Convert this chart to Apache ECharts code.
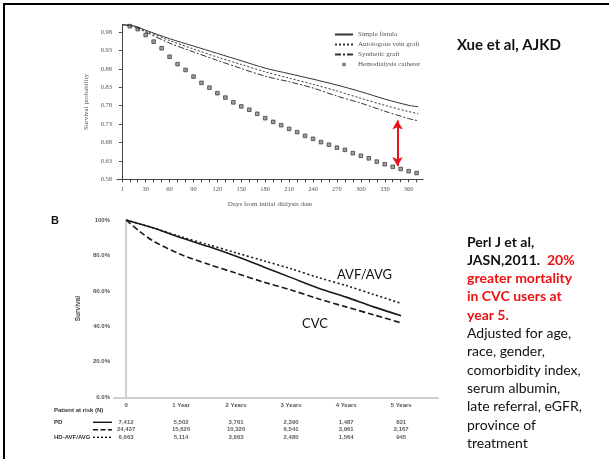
<!DOCTYPE html>
<html>
<head>
<meta charset="utf-8">
<script src="https://cdn.jsdelivr.net/npm/echarts@6/dist/echarts.min.js"></script>
<style>
html, body { margin: 0; padding: 0; background: #fff; }
#main { width: 609px; height: 459px; }
</style>
</head>
<body>
<div id="main"></div>
<script>
// 上图: Xue et al (days 1..372)
var lineDays = [1, 15, 30, 60, 90, 120, 150, 180, 210, 240, 270, 300, 330, 360, 372];
var simpleFistula = [1.0, 0.997, 0.985, 0.962, 0.942, 0.922, 0.902, 0.882, 0.867, 0.852, 0.836, 0.818, 0.798, 0.781, 0.777];
var autoVein = [1.0, 0.996, 0.983, 0.957, 0.934, 0.912, 0.892, 0.872, 0.855, 0.838, 0.820, 0.800, 0.781, 0.764, 0.758];
var syntheticGraft = [1.0, 0.995, 0.980, 0.950, 0.926, 0.903, 0.881, 0.860, 0.845, 0.828, 0.806, 0.787, 0.765, 0.745, 0.739];
var catheterDays = [10, 20, 30, 40, 50, 60, 70, 80, 90, 100, 110, 120, 130, 140, 150, 160, 170, 180, 190, 200,
	210, 220, 230, 240, 250, 260, 270, 280, 290, 300, 310, 320, 330, 340, 350, 360, 370];
var catheter = [0.996, 0.988, 0.972, 0.954, 0.936, 0.913, 0.893, 0.877, 0.859, 0.842, 0.829, 0.814, 0.802, 0.789,
	0.778, 0.769, 0.758, 0.746, 0.736, 0.727, 0.717, 0.708, 0.698, 0.690, 0.681, 0.674, 0.666, 0.660, 0.651,
	0.644, 0.637, 0.628, 0.621, 0.614, 0.608, 0.602, 0.597];
var topXLabels = [1, 30, 60, 90, 120, 150, 180, 210, 240, 270, 300, 330, 360];
var topXTicks = [0, 10, 20, 30, 40, 50, 60, 70, 80, 90, 100, 110, 120, 130, 140, 150, 160, 170, 180, 190, 200,
	210, 220, 230, 240, 250, 260, 270, 280, 290, 300, 310, 320, 330, 340, 350, 360, 370];
var arrowDay = 346, arrowFrom = 0.740, arrowTo = 0.616;

// 下图: Perl J et al (years 0..5)
var years = [0, 0.25, 0.5, 1, 1.5, 2, 2.5, 3, 3.5, 4, 4.5, 5];
var pd = [100, 97.7, 95.5, 90, 85, 79.5, 73.5, 67.5, 61.5, 56.5, 51, 46];
var avf = [100, 97.8, 95.5, 90.5, 86, 81.5, 77, 72.5, 67.5, 63, 58, 53];
var cvc = [100, 93.5, 88, 80.5, 75, 70, 65, 60.5, 55.5, 51, 46.5, 42];
var yearTicks = [0, 1, 2, 3, 4, 5];
var yearLabels = ['0', '1 Year', '2 Years', '3 Years', '4 Years', '5 Years'];
var riskRows = ['PD', 'HD-CVC', 'HD-AVF/AVG'];
var riskPD = ['7,412', '5,502', '3,761', '2,390', '1,487', '831'];
var riskCVC = ['24,437', '15,620', '10,320', '6,541', '3,961', '2,167'];
var riskAVF = ['6,663', '5,114', '3,663', '2,480', '1,564', '945'];

function pairs(xs, ys) {
	var out = [];
	for (var i = 0; i < xs.length; i++) {
		out.push([xs[i], ys[i]]);
	}
	return out;
}
function riskData(row, vals) {
	var out = [];
	for (var i = 0; i < vals.length; i++) {
		out.push({ value: [yearTicks[i], row], label: { formatter: vals[i] } });
	}
	return out;
}

var serif = 'Liberation Serif';
var sans = 'Liberation Sans';
var dark = '#333';
// 图例里的小方块, 用不可见的 M 点把边界撑成 18x7
var smallBox = 'path://M0,0M18,7M7.3,1.8h3.4v3.4h-3.4z';

var myChart = echarts.init(document.getElementById('main'));
var option = {
	animation: false,
	backgroundColor: '#fff',
	grid: [
		{ left: 117, right: 186, top: 24.7, height: 154.6 },
		{ left: 114, right: 171, top: 220, height: 177.3 },
		{ left: 114, right: 171, top: 418.5, height: 22.5 }
	],
	legend: {
		data: [
			{ name: 'Simple fistula', itemStyle: { opacity: 0 } },
			{ name: 'Autologous vein graft', itemStyle: { opacity: 0 } },
			{ name: 'Synthetic graft', itemStyle: { opacity: 0 } },
			{ name: 'Hemodialysis catheter', icon: smallBox, itemStyle: { color: '#555', borderWidth: 0 } }
		],
		orient: 'vertical',
		left: 329,
		top: 26,
		itemWidth: 18,
		itemHeight: 7,
		itemGap: 3,
		textStyle: { fontFamily: serif, fontSize: 7, color: '#555' }
	},
	xAxis: [
		{
			gridIndex: 0, type: 'value', min: -6, max: 378,
			axisLine: { lineStyle: { color: '#444', width: 1 } },
			axisTick: { customValues: topXTicks, length: 3, lineStyle: { color: '#444' } },
			axisLabel: { customValues: topXLabels, fontFamily: serif, fontSize: 6.5, color: '#555', margin: 6 },
			splitLine: { show: false },
			name: 'Days from initial dialysis date', nameLocation: 'middle', nameGap: 21,
			nameTextStyle: { fontFamily: serif, fontSize: 7, color: '#555' }
		},
		{
			gridIndex: 1, type: 'value', min: -0.22, max: 5.67,
			axisLine: { lineStyle: { color: '#d0d0d0', width: 2 } },
			axisTick: { customValues: yearTicks, length: 2, lineStyle: { color: '#ccc' } },
			axisLabel: {
				customValues: yearTicks, fontFamily: sans, fontSize: 6, fontWeight: 'bold', color: '#555', margin: 5,
				formatter: function(v) { return yearLabels[yearTicks.indexOf(v)]; }
			},
			splitLine: { show: false }
		},
		{
			gridIndex: 2, type: 'value', min: -0.22, max: 5.67, show: false
		}
	],
	yAxis: [
		{
			gridIndex: 0, type: 'value', min: 0.58, max: 1.0, interval: 0.05,
			axisLine: { show: true, lineStyle: { color: '#444', width: 1 } },
			axisTick: { show: true, length: 3, lineStyle: { color: '#444' } },
			axisLabel: {
				fontFamily: serif, fontSize: 6.5, color: '#555', margin: 5, showMaxLabel: false,
				formatter: function(v) { return v.toFixed(2); }
			},
			splitLine: { show: false },
			name: 'Survival probability', nameLocation: 'middle', nameGap: 23, nameRotate: 90,
			nameTextStyle: { fontFamily: serif, fontSize: 7, color: '#555' }
		},
		{
			gridIndex: 1, type: 'value', min: 0, max: 100, interval: 20,
			axisLine: { show: true, lineStyle: { color: '#d0d0d0', width: 2 } },
			axisTick: { show: false },
			axisLabel: {
				fontFamily: sans, fontSize: 6, fontWeight: 'bold', color: '#555', margin: 4,
				formatter: function(v) { return v == 100 ? '100%' : v.toFixed(1) + '%'; }
			},
			splitLine: { show: false },
			name: 'Survival', nameLocation: 'middle', nameGap: 24, nameRotate: 90,
			nameTextStyle: { fontFamily: sans, fontSize: 6.5, fontWeight: 'bold', color: '#444' }
		},
		{
			gridIndex: 2, type: 'category', data: riskRows, inverse: true,
			axisLine: { show: false }, axisTick: { show: false },
			axisLabel: { align: 'left', margin: 60, fontFamily: sans, fontSize: 6, fontWeight: 'bold', color: '#333' }
		}
	],
	series: [
		{
			name: 'Simple fistula', type: 'line', xAxisIndex: 0, yAxisIndex: 0,
			data: pairs(lineDays, simpleFistula), symbol: 'none', smooth: 0.3,
			lineStyle: { color: dark, width: 1, type: 'solid' }, itemStyle: { color: dark }
		},
		{
			name: 'Autologous vein graft', type: 'line', xAxisIndex: 0, yAxisIndex: 0,
			data: pairs(lineDays, autoVein), symbol: 'none', smooth: 0.3,
			lineStyle: { color: dark, width: 1, type: [2, 2] }, itemStyle: { color: dark }
		},
		{
			name: 'Synthetic graft', type: 'line', xAxisIndex: 0, yAxisIndex: 0,
			data: pairs(lineDays, syntheticGraft), symbol: 'none', smooth: 0.3,
			lineStyle: { color: dark, width: 1, type: [6, 2, 2, 2] }, itemStyle: { color: dark }
		},
		{
			name: 'Hemodialysis catheter', type: 'scatter', xAxisIndex: 0, yAxisIndex: 0,
			data: pairs(catheterDays, catheter), symbol: 'rect', symbolSize: 3.6,
			itemStyle: { color: '#888', borderColor: '#333', borderWidth: 0.9 },
			markLine: {
				silent: true, symbol: ['arrow', 'arrow'], symbolSize: [8, 9],
				label: { show: false },
				lineStyle: { color: '#e8141b', width: 2, type: 'solid' },
				data: [[{ coord: [arrowDay, arrowFrom] }, { coord: [arrowDay, arrowTo] }]]
			}
		},
		{
			name: 'PD', type: 'line', xAxisIndex: 1, yAxisIndex: 1,
			data: pairs(years, pd), symbol: 'none', smooth: 0.3,
			lineStyle: { color: '#1a1a1a', width: 1.6, type: 'solid' }
		},
		{
			name: 'HD-AVF/AVG', type: 'line', xAxisIndex: 1, yAxisIndex: 1,
			data: pairs(years, avf), symbol: 'none', smooth: 0.3,
			lineStyle: { color: '#1a1a1a', width: 1.6, type: [2, 2.5] }
		},
		{
			name: 'HD-CVC', type: 'line', xAxisIndex: 1, yAxisIndex: 1,
			data: pairs(years, cvc), symbol: 'none', smooth: 0.3,
			lineStyle: { color: '#1a1a1a', width: 1.6, type: [6, 3] }
		},
		{
			name: 'riskPD', type: 'scatter', xAxisIndex: 2, yAxisIndex: 2, symbolSize: 0,
			data: riskData('PD', riskPD),
			label: { show: true, position: 'inside', fontFamily: sans, fontSize: 6, fontWeight: 'bold', color: '#333' }
		},
		{
			name: 'riskCVC', type: 'scatter', xAxisIndex: 2, yAxisIndex: 2, symbolSize: 0,
			data: riskData('HD-CVC', riskCVC),
			label: { show: true, position: 'inside', fontFamily: sans, fontSize: 6, fontWeight: 'bold', color: '#333' }
		},
		{
			name: 'riskAVF', type: 'scatter', xAxisIndex: 2, yAxisIndex: 2, symbolSize: 0,
			data: riskData('HD-AVF/AVG', riskAVF),
			label: { show: true, position: 'inside', fontFamily: sans, fontSize: 6, fontWeight: 'bold', color: '#333' }
		}
	],
	graphic: [
		// 幻灯片边框
		{ type: 'line', shape: { x1: 3, y1: 4, x2: 609, y2: 4 }, style: { stroke: '#000', lineWidth: 2 } },
		{ type: 'line', shape: { x1: 4, y1: 3, x2: 4, y2: 459 }, style: { stroke: '#000', lineWidth: 2 } },
		{
			type: 'text', left: 457, top: 38,
			style: { text: 'Xue et al, AJKD', font: 'bold 15px Lato', fill: '#111' }
		},
		{
			type: 'text', left: 51, top: 215,
			style: { text: 'B', font: 'bold 11px "Liberation Sans"', fill: '#111' }
		},
		{
			type: 'text', left: 337, top: 268,
			style: { text: 'AVF/AVG', font: '13px Lato', fill: '#111' }
		},
		{
			type: 'text', left: 302, top: 317,
			style: { text: 'CVC', font: '13px Lato', fill: '#111' }
		},
		{
			type: 'text', left: 54, top: 407,
			style: { text: 'Patient at risk (N)', font: 'bold 6px "Liberation Sans"', fill: '#333' }
		},
		{ type: 'line', shape: { x1: 93, y1: 422.3, x2: 112, y2: 422.3 }, style: { stroke: '#111', lineWidth: 1.4 } },
		{ type: 'line', shape: { x1: 93, y1: 429.8, x2: 112, y2: 429.8 }, style: { stroke: '#111', lineWidth: 1.4, lineDash: [5, 2.5] } },
		{ type: 'line', shape: { x1: 93, y1: 437.3, x2: 112, y2: 437.3 }, style: { stroke: '#111', lineWidth: 1.4, lineDash: [2, 2] } },
		{
			type: 'text', left: 467, top: 235,
			style: {
				text: '{b|Perl J et al,}\n{b|JASN,2011.  }{r|20%}\n{r|greater mortality}\n{r|in CVC users at}\n{r|year 5.}\n' +
					'{n|Adjusted for age,}\n{n|race, gender,}\n{n|comorbidity index,}\n{n|serum albumin,}\n' +
					'{n|late referral, eGFR,}\n{n|province of}\n{n|treatment}',
				rich: {
					b: { font: 'bold 14px Lato', fill: '#111', lineHeight: 18.3 },
					r: { font: 'bold 14px Lato', fill: '#ee1111', lineHeight: 18.3 },
					n: { font: '14px Lato', fill: '#111', lineHeight: 18.3 }
				}
			}
		}
	]
};
myChart.setOption(option);
</script>
</body>
</html>
